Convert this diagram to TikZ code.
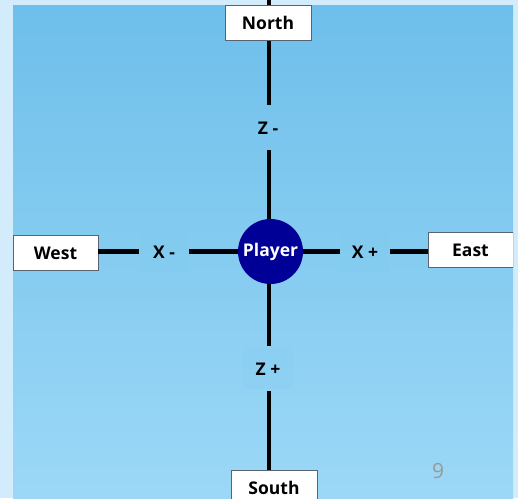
\documentclass[tikz,border=0pt]{standalone}
\usepackage{fontspec}
\setmainfont{Open Sans}
\definecolor{outer}{HTML}{D3ECFC}
\definecolor{bgtop}{HTML}{6EBFEB}
\definecolor{bgbot}{HTML}{9CD8F6}
\definecolor{lblfill}{HTML}{7FC8EF}
\definecolor{navy}{RGB}{0,0,150}
\definecolor{boxline}{HTML}{5A6470}
\begin{document}
\begin{tikzpicture}[x=1pt,y=-1pt,
  dirbox/.style={draw=boxline,line width=0.8pt,fill=white,minimum width=86pt,minimum height=35pt,inner sep=0pt,font=\fontsize{17.5}{17.5}\selectfont\bfseries},
  axlabel/.style={fill=lblfill,fill opacity=0.2,text opacity=1,minimum width=50pt,minimum height=40pt,inner sep=0pt,font=\fontsize{17.5}{17.5}\selectfont\bfseries},
  axis/.style={line width=4.5pt,black}]
\useasboundingbox (0,0) rectangle (518,498);
\fill[outer] (0,0) rectangle (518,498);
\begin{scope}
\clip (13,5) rectangle (513,498);
\shade[top color=bgtop,bottom color=bgbot] (13,5) rectangle (513,498);
\node[axlabel] (zm) at (268,128) {Z -};
\node[axlabel] (zp) at (268,369) {Z +};
\node[axlabel] (xm) at (164,252) {X -};
\node[axlabel] (xp) at (365,252) {X +};
\node[circle,fill=navy,minimum size=65pt,inner sep=0pt,text=white,font=\fontsize{17.5}{17.5}\selectfont\bfseries] (pl) at (270.5,251.5) {Player};
\coordinate (top) at (269,0);
\node[dirbox] (south) at (274,488) {South};
\node[dirbox,minimum width=85pt] (west) at (55.5,253) {West};
\node[dirbox,minimum width=85pt] (east) at (470.5,250) {East};
\draw[axis] (west.east|-pl) -- (xm.west|-pl);
\draw[axis] (xm.east|-pl) -- (pl.west);
\draw[axis] (pl.east) -- (xp.west|-pl);
\draw[axis] (xp.east|-pl) -- (east.west|-pl);
\draw[axis] (269,150) -- (pl.north-|269,0);
\draw[axis] (pl.south-|269,0) -- (269,346);
\draw[axis] (269,391) -- (south.north-|269,0);
\end{scope}
\draw[axis] (top) -- (269,105);
\node[dirbox] (north) at (268,22.5) {North};
\node[text=gray!80,font=\fontsize{21}{21}\selectfont] (pg) at (438,471) {9};
\end{tikzpicture}
\end{document}
